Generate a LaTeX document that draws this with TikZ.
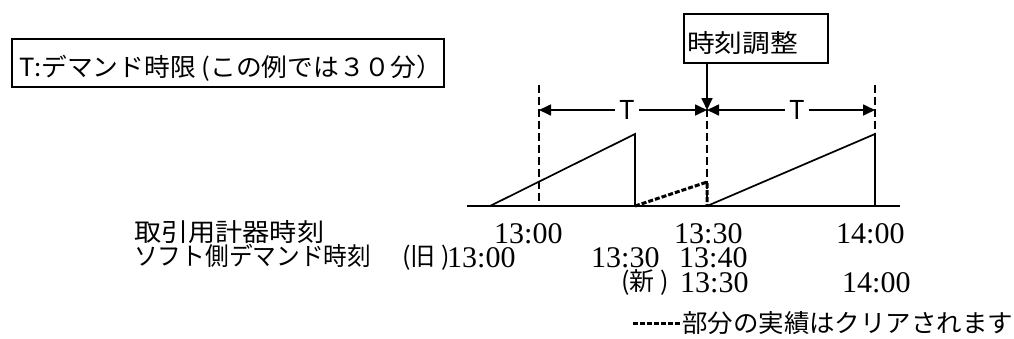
\documentclass[tikz,border=0pt]{standalone}
\usepackage{fontspec}
\setmainfont{Liberation Serif}
\newfontfamily\jpf{Noto Sans CJK JP}
\newcommand{\wfit}[2]{\resizebox{#1}{\height}{#2}}
\usetikzlibrary{arrows.meta}
\begin{document}
\begin{tikzpicture}[x=1pt,y=-1pt,
  line/.style={line width=1.7pt},
  vdash/.style={line width=1.7pt, dash pattern=on 8pt off 4pt},
  cleared/.style={line width=3pt, dash pattern=on 5pt off 2pt},
  arr/.style={line width=1.7pt,-{Triangle[length=12pt,width=11pt]}},
  jp/.style={font=\jpf\fontsize{25}{25}\selectfont, inner sep=0pt, anchor=base west},
  num/.style={font=\fontsize{30}{30}\selectfont, inner sep=0pt, anchor=base west},
  tlab/.style={font=\jpf\fontsize{26}{26}\selectfont, inner sep=4pt},
  frame/.style={draw, line width=1.7pt, inner sep=0pt, anchor=north west}]
\useasboundingbox (0,0) rectangle (1014,338);

% definition box
\node[frame, minimum width=432pt, minimum height=48pt] (defbox) at (11,38) {};
\node[jp] (deftxt) at (19,76) {\wfit{423pt}{T:デマンド時限 (この例では３０分）}};

% time adjustment box
\node[frame, minimum width=144pt, minimum height=49pt] (adj) at (683,13) {};
\node[jp] (adjtxt) at (687,52) {\wfit{111pt}{時刻調整}};

% coordinates
\coordinate (axL) at (467,206);
\coordinate (axR) at (900,206);
\coordinate (d1t) at (539,85);  \coordinate (d1b) at (539,206);
\coordinate (d2t) at (707,85);  \coordinate (d2b) at (707,206);
\coordinate (d3t) at (875,85);  \coordinate (d3b) at (875,206);
\coordinate (m1) at (539,110);
\coordinate (m2) at (707,110);
\coordinate (m3) at (875,110);
\coordinate (s0) at (490,206);
\coordinate (s1t) at (635,134); \coordinate (s1b) at (635,206);
\coordinate (c1t) at (707,182);
\coordinate (s2t) at (875,134);

% axis and guides
\draw[line] (axL) -- (axR);
\draw[vdash] (d1t) -- (d1b);
\draw[vdash] (d2t) -- (d2b);
\draw[vdash] (d3t) -- (d3b);

% sawtooth
\draw[line] (s0) -- (s1t) -- (s1b);
\draw[cleared] (s1b) -- (c1t) -- (d2b);
\draw[line] (d2b) -- (s2t) -- (d3b);

% T spans
\node[tlab] (T1) at (627,110) {T};
\node[tlab] (T2) at (797,110) {T};
\draw[arr] (T1.west) -- (m1);
\draw[arr] (T1.east) -- (m2);
\draw[arr] (T2.west) -- (m2);
\draw[arr] (T2.east) -- (m3);

% adjustment arrow
\draw[arr] (m2 |- adj.south) -- (m2);

% row labels
\node[jp] (lab1) at (134,241) {\wfit{190pt}{取引用計器時刻}};
\node[jp] (lab2) at (134,265) {\wfit{237pt}{ソフト側デマンド時刻}};
\node[jp] (old) at (402,265) {(旧 )};
\node[jp] (new) at (621,290) {(新 )};

% row 1 numbers
\node[num] (r1a) at (494,243) {13:00};
\node[num] (r1b) at (674,243) {13:30};
\node[num] (r1c) at (836,243) {14:00};
% row 2 numbers
\node[num] (r2a) at (447,267) {13:00};
\node[num] (r2b) at (591,267) {13:30};
\node[num] (r2c) at (679,267) {13:40};
% row 3 numbers
\node[num] (r3a) at (680,292) {13:30};
\node[num] (r3b) at (842,292) {14:00};

% legend
\coordinate (lg0) at (633,323);
\node[jp] (legtxt) at (682,332) {\wfit{331pt}{部分の実績はクリアされます}};
\draw[cleared] (lg0) -- (legtxt.west |- lg0);
\end{tikzpicture}
\end{document}
